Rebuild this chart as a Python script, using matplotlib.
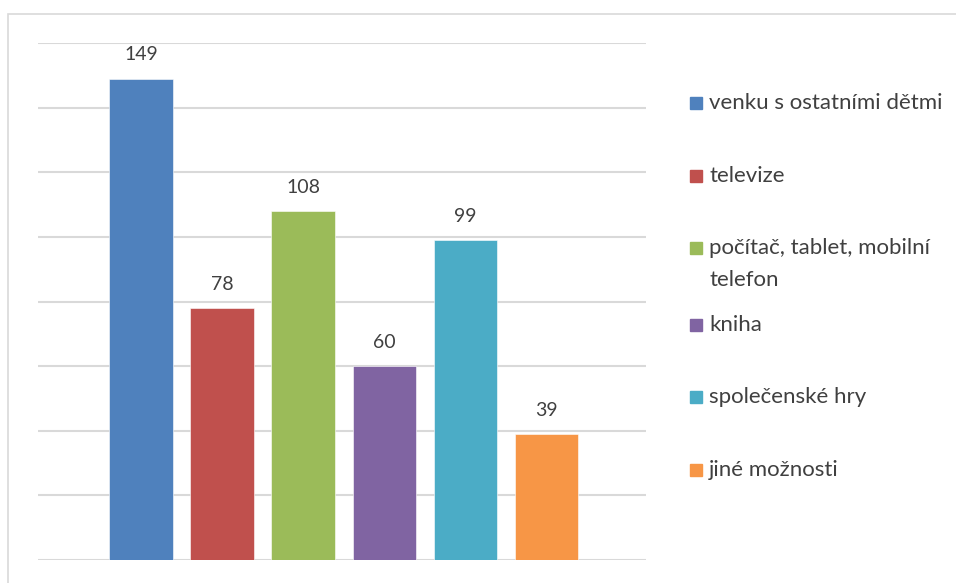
import matplotlib.pyplot as plt
from matplotlib.patches import Rectangle

categories = ["venku s ostatními dětmi", "televize", "počítač, tablet, mobilní\ntelefon",
              "kniha", "společenské hry", "jiné možnosti"]
values = [149, 78, 108, 60, 99, 39]
colors = ["#4F81BD", "#C0504D", "#9BBB59", "#8064A2", "#4BACC6", "#F79646"]

plt.rcParams["font.family"] = ["Lato", "DejaVu Sans"]
text_color = "#404040"

W, H = 956, 583
fig = plt.figure(figsize=(W / 100, H / 100), dpi=100)

# outer chart border
fig.patches.append(Rectangle((8 / W, -0.1), 1.1, 1 - 14 / H + 0.1, transform=fig.transFigure,
                             fill=False, edgecolor="#d9d9d9", linewidth=1.2))

ax = fig.add_axes([38 / W, 1 - 560 / H, (646 - 38) / W, (560 - 43) / H])
x = list(range(len(values)))
bars = ax.bar(x, values, width=0.78, color=colors, edgecolor="white", linewidth=0.4, zorder=3)
for b, v in zip(bars, values):
    ax.annotate(str(v), (b.get_x() + b.get_width() / 2, v), xytext=(0, 13),
                textcoords="offset points", ha="center", va="baseline",
                fontsize=14, color=text_color)

ax.set_xlim(-1.27, 6.23)
ax.set_ylim(0, 160)
ax.set_yticks(range(0, 161, 20))
ax.yaxis.grid(True, color="#d9d9d9", linewidth=1.5, zorder=0)
ax.tick_params(left=False, bottom=False, labelleft=False, labelbottom=False)
for s in ax.spines.values():
    s.set_visible(False)

# legend
legend_y = [103, 176, 248, 325, 397, 470]
for name, c, ly in zip(categories, colors, legend_y):
    fig.patches.append(Rectangle((690 / W, 1 - (ly + 6) / H), 12 / W, 12 / H,
                                 transform=fig.transFigure, color=c))
    for i, line in enumerate(name.split("\n")):
        fig.text(709 / W, 1 - (ly + 32 * i) / H, line, fontsize=16, color=text_color,
                 va="center")

fig.savefig("out.png", dpi=100)
